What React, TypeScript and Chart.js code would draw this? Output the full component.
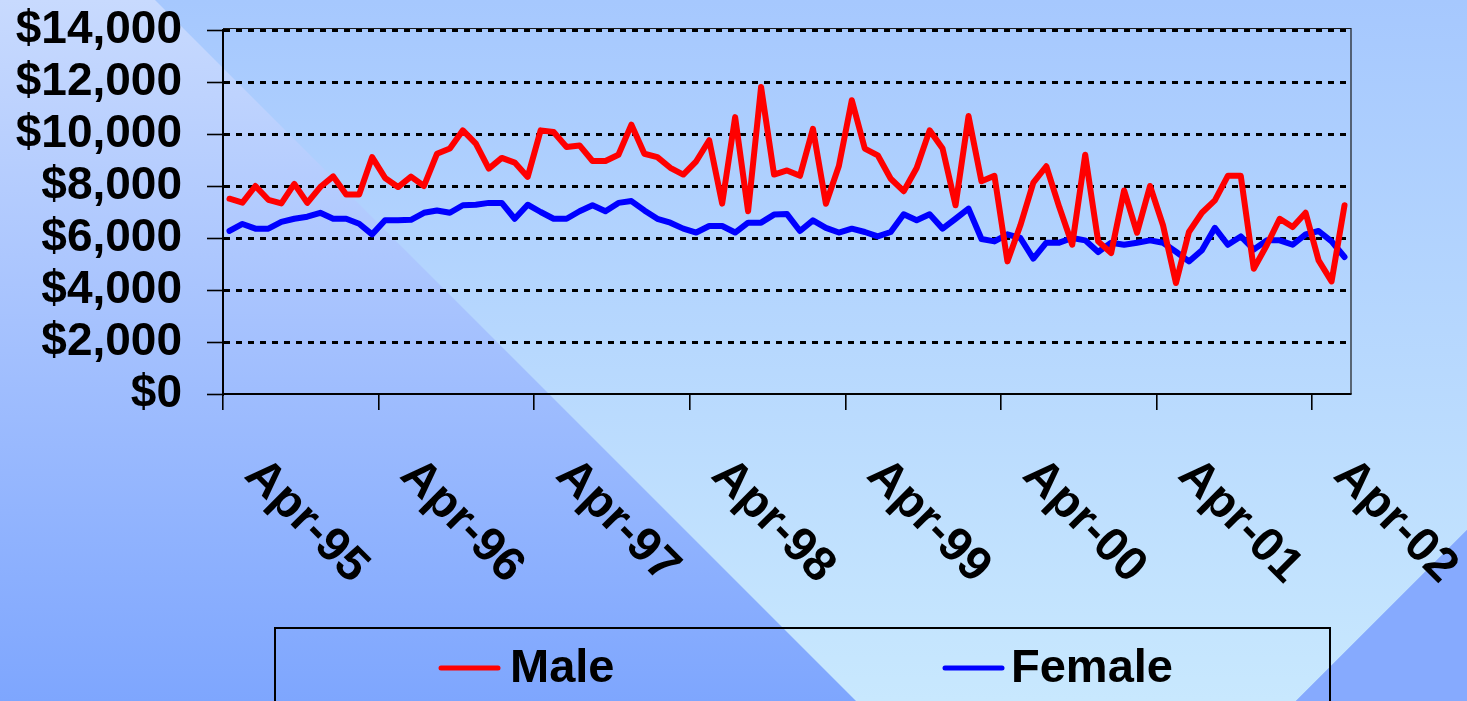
import React, { useEffect, useRef } from 'react';
import { Chart, registerables } from 'chart.js';

Chart.register(...registerables);

const CATEGORIES = [
  'Apr-95', 'May-95', 'Jun-95', 'Jul-95', 'Aug-95', 'Sep-95', 'Oct-95', 'Nov-95', 'Dec-95',
  'Jan-96', 'Feb-96', 'Mar-96', 'Apr-96', 'May-96', 'Jun-96', 'Jul-96', 'Aug-96', 'Sep-96', 'Oct-96', 'Nov-96', 'Dec-96',
  'Jan-97', 'Feb-97', 'Mar-97', 'Apr-97', 'May-97', 'Jun-97', 'Jul-97', 'Aug-97', 'Sep-97', 'Oct-97', 'Nov-97', 'Dec-97',
  'Jan-98', 'Feb-98', 'Mar-98', 'Apr-98', 'May-98', 'Jun-98', 'Jul-98', 'Aug-98', 'Sep-98', 'Oct-98', 'Nov-98', 'Dec-98',
  'Jan-99', 'Feb-99', 'Mar-99', 'Apr-99', 'May-99', 'Jun-99', 'Jul-99', 'Aug-99', 'Sep-99', 'Oct-99', 'Nov-99', 'Dec-99',
  'Jan-00', 'Feb-00', 'Mar-00', 'Apr-00', 'May-00', 'Jun-00', 'Jul-00', 'Aug-00', 'Sep-00', 'Oct-00', 'Nov-00', 'Dec-00',
  'Jan-01', 'Feb-01', 'Mar-01', 'Apr-01', 'May-01', 'Jun-01', 'Jul-01', 'Aug-01', 'Sep-01', 'Oct-01', 'Nov-01', 'Dec-01',
  'Jan-02', 'Feb-02', 'Mar-02', 'Apr-02', 'May-02', 'Jun-02',
];

const MALE = [
  7510, 7360, 8000, 7470, 7330, 8080, 7350, 7960, 8370, 7670, 7670, 9110, 8310, 7960, 8360,
  8000, 9240, 9440, 10140, 9630, 8670, 9080, 8900, 8350, 10140, 10080, 9500, 9560, 8960, 8960,
  9200, 10360, 9240, 9110, 8700, 8440, 8950, 9760, 7320, 10650, 7030, 11810, 8440, 8600,
  8390, 10200, 7320, 8770, 11300, 9440, 9180, 8280, 7800, 8690, 10140, 9440, 7260, 10690, 8180,
  8390, 5100, 6490, 8130, 8760, 7190, 5740, 9200, 5870, 5420, 7830, 6200, 8000, 6490, 4270,
  6230, 6970, 7450, 8390, 8390, 4820, 5720, 6740, 6420, 6970, 5140, 4330, 7260,
];

const FEMALE = [
  6270, 6540, 6360, 6360, 6620, 6740, 6820, 6970, 6740, 6740, 6550, 6140, 6680, 6680, 6700,
  6970, 7060, 6970, 7260, 7280, 7350, 7350, 6740, 7280, 7000, 6740, 6740, 7030, 7260, 7030,
  7350, 7420, 7060, 6740, 6590, 6360, 6210, 6460, 6460, 6210, 6590, 6590, 6900, 6920,
  6270, 6680, 6390, 6210, 6360, 6230, 6060, 6230, 6910, 6680, 6910, 6360, 6740, 7130, 5960,
  5870, 6140, 6000, 5210, 5820, 5820, 6000, 5910, 5460, 5820, 5740, 5820, 5910, 5820, 5470,
  5100, 5530, 6390, 5740, 6060, 5560, 5910, 5910, 5740, 6140, 6270, 5870, 5270,
];

const X_TICK_LABELS = ['Apr-95', 'Apr-96', 'Apr-97', 'Apr-98', 'Apr-99', 'Apr-00', 'Apr-01', 'Apr-02'];
const SERIES_NAMES = ['Male', 'Female'];
const SERIES_COLORS = ['#ff0000', '#0000ff'];
const Y_MIN = 0;
const Y_MAX = 14000;
const Y_STEP = 2000;

const FONT = "'Liberation Sans', Arial, Helvetica, sans-serif";
const W = 1467;
const H = 701;

function money(v: number): string {
  return '$' + String(v).replace(/\B(?=(\d{3})+(?!\d))/g, ',');
}

const decorPlugin = {
  id: 'decor',
  beforeDraw(chart: any) {
    const { ctx, width, height } = chart;
    ctx.save();
    const gA = ctx.createLinearGradient(0, 0, 0, height);
    gA.addColorStop(0, '#c8dafe');
    gA.addColorStop(1, '#7ea6fe');
    ctx.fillStyle = gA;
    ctx.fillRect(0, 0, width, height);

    const gB = ctx.createLinearGradient(0, 0, 0, height);
    gB.addColorStop(0, '#a6c8fe');
    gB.addColorStop(1, '#c8e8fe');
    ctx.fillStyle = gB;
    ctx.beginPath();
    ctx.moveTo(155, 0);
    ctx.lineTo(width, 0);
    ctx.lineTo(width, 1997 - width);
    ctx.lineTo(1997 - height, height);
    ctx.lineTo(155 + height, height);
    ctx.closePath();
    ctx.fill();

    ctx.fillStyle = '#86aafe';
    ctx.beginPath();
    ctx.moveTo(width, 1997 - width);
    ctx.lineTo(width, height);
    ctx.lineTo(1997 - height, height);
    ctx.closePath();
    ctx.fill();
    ctx.restore();
  },
  beforeDatasetsDraw(chart: any) {
    const { ctx, chartArea } = chart;
    ctx.save();
    ctx.strokeStyle = '#1a1a1a';
    ctx.lineWidth = 1.2;
    ctx.beginPath();
    ctx.moveTo(chartArea.left, chartArea.top - 1.5);
    ctx.lineTo(chartArea.right, chartArea.top - 1.5);
    ctx.lineTo(chartArea.right, chartArea.bottom);
    ctx.stroke();
    ctx.restore();
  },
  afterDraw(chart: any) {
    const { ctx, chartArea } = chart;
    const xs = chart.scales.x;
    const half = (xs.getPixelForValue(1) - xs.getPixelForValue(0)) / 2;
    ctx.save();
    ctx.fillStyle = '#000';
    ctx.font = `bold 48px ${FONT}`;
    ctx.textAlign = 'left';
    ctx.textBaseline = 'alphabetic';
    X_TICK_LABELS.forEach((lab) => {
      const idx = CATEGORIES.indexOf(lab);
      if (idx < 0) return;
      const tx = xs.getPixelForValue(idx) - half;
      ctx.save();
      ctx.translate(tx + 20, chartArea.bottom + 83);
      ctx.rotate(Math.PI / 4);
      ctx.fillText(lab, 0, 0);
      ctx.restore();
    });
    ctx.restore();

    // legend
    ctx.save();
    ctx.strokeStyle = '#000';
    ctx.lineWidth = 2;
    ctx.strokeRect(275, 628, 1055, 120);
    const items = [
      { lx: 441, tx: 510 },
      { lx: 945, tx: 1011 },
    ];
    chart.data.datasets.forEach((ds: any, i: number) => {
      const it = items[i];
      ctx.strokeStyle = ds.borderColor;
      ctx.lineWidth = 5;
      ctx.lineCap = 'round';
      ctx.beginPath();
      ctx.moveTo(it.lx, 668);
      ctx.lineTo(it.lx + 57, 668);
      ctx.stroke();
      ctx.fillStyle = '#000';
      ctx.font = `bold 47px ${FONT}`;
      ctx.textAlign = 'left';
      ctx.textBaseline = 'middle';
      ctx.fillText(ds.label, it.tx, 669);
    });
    ctx.restore();
  },
};

export default function App() {
  const ref = useRef<HTMLCanvasElement | null>(null);

  useEffect(() => {
    if (!ref.current) return;
    const chart = new Chart(ref.current, {
      type: 'line',
      data: {
        labels: CATEGORIES,
        datasets: [
          {
            label: SERIES_NAMES[0],
            data: MALE,
            borderColor: SERIES_COLORS[0],
            backgroundColor: SERIES_COLORS[0],
            borderWidth: 6,
            pointRadius: 0,
            tension: 0,
            borderJoinStyle: 'round',
            borderCapStyle: 'round',
            fill: false,
          },
          {
            label: SERIES_NAMES[1],
            data: FEMALE,
            borderColor: SERIES_COLORS[1],
            backgroundColor: SERIES_COLORS[1],
            borderWidth: 6,
            pointRadius: 0,
            tension: 0,
            borderJoinStyle: 'round',
            borderCapStyle: 'round',
            fill: false,
          },
        ],
      },
      options: {
        responsive: false,
        animation: false,
        devicePixelRatio: 1,
        layout: { padding: { left: 0, top: 30, right: 116, bottom: 0 } },
        plugins: {
          legend: { display: false },
          tooltip: { enabled: false },
        },
        scales: {
          x: {
            type: 'category',
            offset: true,
            grid: {
              offset: true,
              drawOnChartArea: false,
              drawTicks: true,
              tickLength: 16,
              lineWidth: 1.6,
              tickWidth: 1.6,
              color: (c: any) => (c.index % 12 === 0 ? '#000' : 'rgba(0,0,0,0)'),
              tickColor: (c: any) => (c.index % 12 === 0 ? '#000' : 'rgba(0,0,0,0)'),
            },
            border: { display: true, color: '#000', width: 2 },
            ticks: { display: false, autoSkip: false },
            afterFit: (s: any) => {
              s.height = 307;
              s.paddingLeft = 0;
              s.paddingRight = 0;
            },
          },
          y: {
            min: Y_MIN,
            max: Y_MAX,
            ticks: {
              stepSize: Y_STEP,
              autoSkip: false,
              color: '#000',
              padding: 25,
              font: { family: FONT, size: 46, weight: 'bold' },
              callback: (v: any) => money(Number(v)),
            },
            grid: {
              lineWidth: 3,
              color: (c: any) => (c.tick && c.tick.value === 0 ? 'rgba(0,0,0,0)' : '#000'),
              tickColor: '#000',
              tickLength: 16,
              tickWidth: 1.6,
            },
            border: { display: true, color: '#000', width: 2, dash: [6, 6], dashOffset: 0 },
            afterFit: (s: any) => {
              s.width = 223;
              s.paddingTop = 0;
              s.paddingBottom = 0;
            },
          },
        },
      },
      plugins: [decorPlugin],
    } as any);
    return () => chart.destroy();
  }, []);

  return (
    <div style={{ position: 'fixed', left: 0, top: 0, width: W, height: H, overflow: 'hidden' }}>
      <canvas ref={ref} width={W} height={H} style={{ display: 'block', width: W, height: H }} />
    </div>
  );
}
